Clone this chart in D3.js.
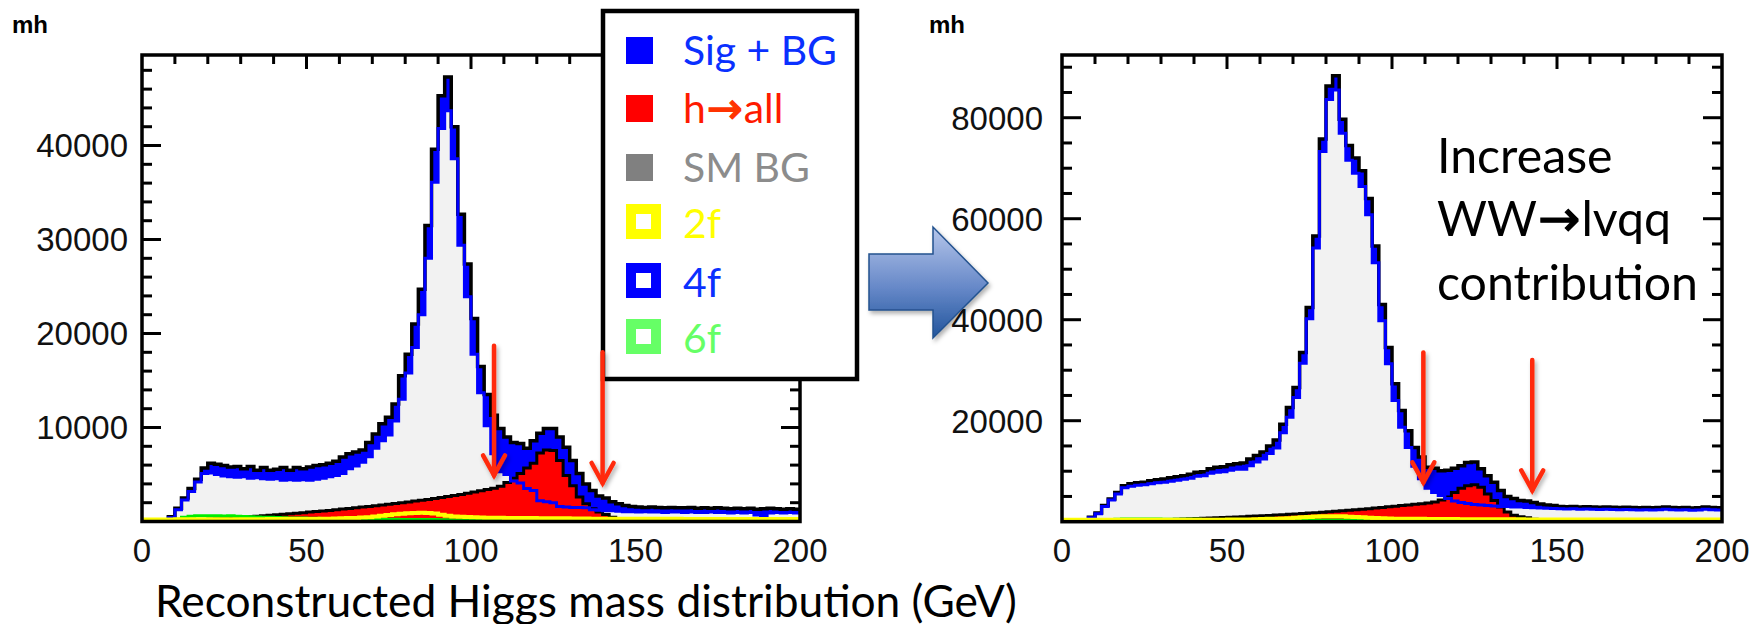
<!DOCTYPE html>
<html>
<head>
<meta charset="utf-8">
<script src="https://cdn.jsdelivr.net/npm/d3@7"></script>
<style>
body { margin: 0; background: #fff; }
svg { display: block; }
</style>
</head>
<body>
<script>
const width = 1763
const height = 624

// 2 GeV bins from 0 to 200
const binEdges = d3.range(0, 201, 2)

// ---- left panel (nominal) ----
const leftTotal = [0,0,0,0,500,1400,2500,3500,4500,5700,
  6200,6100,5950,5800,5850,5600,5850,5450,5750,5450,
  5550,5750,5450,5750,5600,5800,5950,6050,6200,6400,
  6850,7200,7400,7600,8400,9300,10400,11100,12500,15500,
  17800,21000,24700,31500,39600,45300,47300,42000,32700,27400,
  21600,16500,13500,11300,9900,9000,8400,8300,7800,8600,
  9400,9900,9900,9000,7900,6500,5100,4000,3300,2700,
  2500,2100,1900,1700,1600,1550,1500,1550,1500,1450,
  1500,1450,1450,1500,1400,1450,1400,1450,1400,1350,
  1400,1350,1400,1300,1350,1400,1350,1300,1350,1300]
const leftBg = [0,0,0,0,400,1250,2300,3200,4200,5100,
  5150,5000,4850,4750,4700,4750,4600,4650,4550,4500,
  4550,4400,4450,4400,4450,4400,4500,4600,4750,4900,
  5100,5600,5900,6300,6900,7800,8600,9200,10700,13000,
  15800,18500,22000,28000,36100,41800,43700,38600,29400,23900,
  17800,13700,10200,7200,5300,5000,4300,4100,3500,3300,
  2200,2100,2000,1600,1550,1500,1500,1450,1250,1200,
  1150,1150,1100,1050,1050,1000,1050,1000,1000,950,
  1000,1000,950,1000,950,950,1000,950,950,900,
  950,900,950,700,650,900,950,900,950,900]
const leftHiggs = [0,0,0,0,20,60,100,140,180,220,
  260,300,340,380,420,470,510,560,610,660,
  720,770,820,880,940,1000,1060,1120,1180,1250,
  1320,1390,1460,1530,1600,1680,1760,1840,1920,2000,
  2080,2170,2260,2350,2450,2550,2660,2770,2880,3000,
  3130,3260,3400,3550,3750,4150,4600,5100,5700,6200,
  7300,7600,7550,6500,4900,3800,2600,1900,1350,1000,
  750,450,150,0,0,0,0,0,0,0,
  0,0,0,0,0,0,0,0,0,0,
  0,0,0,0,0,0,0,0,0,0]
const left2f = [220,220,220,220,220,230,230,230,240,240,
  240,240,250,250,250,250,250,250,250,260,
  260,260,260,260,270,270,270,280,300,320,
  340,360,380,420,460,520,600,680,760,830,
  880,900,920,900,850,720,620,540,500,470,
  440,420,410,400,390,380,370,370,360,360,
  350,350,350,340,340,320,320,310,300,300,
  300,300,300,290,290,290,280,280,280,280,
  280,280,270,270,270,270,270,270,270,270,
  270,270,270,270,270,270,270,270,270,270]
const left6f = [0,0,0,0,0,250,450,550,600,620,
  600,620,580,600,560,520,500,480,460,450,
  420,400,380,380,360,350,340,330,320,300,
  300,290,280,270,260,250,240,230,230,220,
  220,210,210,200,200,190,180,170,160,150,
  140,140,130,130,130,120,120,120,120,110,
  110,110,110,100,100,100,100,100,100,100,
  100,100,100,90,90,90,90,90,90,90,
  90,90,90,90,90,80,80,80,80,80,
  80,80,80,80,80,80,80,80,80,80]

// ---- right panel (more WW -> lvqq) ----
const rightTotal = [0,0,0,0,900,1700,3200,4500,5800,7100,
  7500,7700,7800,8100,8300,8450,8700,8900,9100,9400,
  9800,9900,10500,10800,10900,11300,11500,11600,12400,13100,
  13800,15000,16200,19300,22600,26600,33500,42400,56600,75800,
  86300,88300,79700,74500,72000,69500,64000,54600,43000,34500,
  27300,22000,18000,14700,12800,10800,10600,10100,10200,10600,
  11100,11700,11800,10500,9100,7800,6200,5000,4600,4200,
  4100,3800,3500,3300,3200,3000,2950,3000,2900,2950,
  2900,2850,2900,2850,2800,2850,2800,2750,2800,2750,
  2800,2900,2800,2750,2800,2700,2750,2900,2800,2750]
const rightBg = [0,0,0,0,800,1550,3000,4300,5500,6700,
  7000,7200,7300,7500,7700,7800,8000,8200,8400,8600,
  9000,9100,9600,9800,9900,10200,10400,10400,11100,11800,
  12400,13500,14600,17600,20700,24600,31400,40200,54200,73300,
  83600,85500,76900,71600,69000,66400,60800,51300,39800,31300,
  24000,18700,14700,11000,8500,6600,5800,5200,4600,4100,
  3800,3600,3400,3300,3200,3100,3000,3000,2900,2900,
  2800,2750,2700,2650,2600,2550,2500,2550,2450,2500,
  2450,2400,2450,2400,2350,2400,2350,2300,2350,2300,
  2350,2450,2350,2300,2350,2250,2300,2450,2350,2300]
const rightHiggs = [0,0,0,0,0,60,100,130,160,200,
  230,260,300,340,380,420,460,500,540,580,
  630,680,730,780,830,880,940,1000,1060,1120,
  1180,1250,1320,1390,1460,1540,1620,1700,1780,1870,
  1960,2050,2150,2250,2350,2460,2570,2690,2810,2940,
  3070,3200,3330,3450,3550,3700,3900,4300,4900,5800,
  6600,7100,7300,6800,5500,4200,2900,1900,1300,1000,
  800,500,200,0,0,0,0,0,0,0,
  0,0,0,0,0,0,0,0,0,0,
  0,0,0,0,0,0,0,0,0,0]
const right2f = [400,400,400,400,400,400,400,400,400,400,
  400,400,400,400,400,400,400,400,400,400,
  400,400,410,410,410,420,420,430,450,480,
  520,560,600,650,700,780,860,940,1020,1060,
  1100,1100,1060,1000,950,870,780,720,670,620,
  600,590,580,570,560,550,540,530,520,520,
  510,510,500,500,500,500,490,490,480,480,
  460,460,460,450,450,450,440,440,440,440,
  430,430,430,430,430,420,420,420,420,420,
  420,420,420,420,420,420,420,420,420,420]
const right6f = [0,0,0,0,0,200,350,450,500,520,
  520,520,520,520,520,480,480,480,480,480,
  480,440,440,440,440,440,440,440,400,400,
  400,400,400,400,400,400,350,350,350,350,
  350,350,350,350,350,350,250,250,250,250,
  250,250,250,250,250,250,150,150,150,150,
  150,150,150,150,150,150,150,150,150,150,
  120,120,120,120,120,120,120,120,120,120,
  100,100,100,100,100,100,100,100,100,100,
  100,100,100,100,100,100,100,100,100,100]

// cut arrows: x position (GeV), arrow top and tip (entries)
const leftCuts = [{x: 107, top: 18700, tip: 4900}, {x: 140, top: 18000, tip: 4100}]
const rightCuts = [{x: 109.5, top: 33500, tip: 7800}, {x: 142.5, top: 32000, tip: 6200}]

// legend: [before arrow, after arrow] pieces so the arrow glyph can be styled
const legendLabels = [['Sig + BG'], ['h', 'all'], ['SM BG'], ['2f'], ['4f'], ['6f']]
const legendColors = ['#0000ff', '#ff0000', '#808080', '#ffff00', '#0000ff', '#66ff66']
const legendTextColors = ['#0a30ff', '#ff1a00', '#8c8c8c', '#ffff00', '#0a30ff', '#66ff66']
const legendHollow = [false, false, false, true, true, true]

const noteLines = [['Increase'], ['WW', 'lvqq'], ['contribution']]

const svg = d3.select('body').append('svg').attr('width', width).attr('height', height)
  .style('background', '#fff')

const defs = svg.append('defs')
const grad = defs.append('linearGradient').attr('id', 'bigArrow')
  .attr('x1', 0).attr('y1', 0).attr('x2', 0).attr('y2', 1)
grad.append('stop').attr('offset', 0).attr('stop-color', '#b6c6ea')
grad.append('stop').attr('offset', 0.55).attr('stop-color', '#6688c8')
grad.append('stop').attr('offset', 1).attr('stop-color', '#21559c')

const shadow = defs.append('filter').attr('id', 'shadow')
  .attr('x', -0.3).attr('y', -0.3).attr('width', 1.6).attr('height', 1.6)
shadow.append('feDropShadow').attr('dx', 2).attr('dy', 3)
  .attr('stdDeviation', 2).attr('flood-color', '#000').attr('flood-opacity', 0.3)

function fit(sel, w) {
  const fs = parseFloat(sel.attr('font-size'))
  const len = sel.node().getComputedTextLength()
  sel.attr('font-size', fs * w / len)
  return fs * w / len
}

// text with an optional arrow glyph between two pieces
function arrowText(sel, parts, arrowColor) {
  sel.append('tspan').text(parts[0])
  if (parts.length > 1) {
    sel.append('tspan').attr('font-family', 'DejaVu Sans, sans-serif')
      .attr('fill', arrowColor).attr('stroke', arrowColor).attr('stroke-width', 1.2)
      .attr('font-size', '1.05em').attr('dx', 1).text('\u2192')
    sel.append('tspan').attr('dx', 1).text(parts[1])
  }
  return sel
}

function drawPanel(cfg) {
  const x = d3.scaleLinear().domain([0, 200]).range([cfg.left, cfg.right])
  const y = d3.scaleLinear().domain([0, cfg.ymax]).range([cfg.bottom, cfg.top])
  const g = svg.append('g')

  const clipId = 'clip' + cfg.id
  defs.append('clipPath').attr('id', clipId).append('rect')
    .attr('x', cfg.left).attr('y', cfg.top)
    .attr('width', cfg.right - cfg.left).attr('height', cfg.bottom - cfg.top)

  // ticks (drawn under the histograms, ROOT style inward)
  const ticks = g.append('g').attr('stroke', '#000').attr('stroke-width', 3)
  const xt = d3.range(10, 200, 10)
  xt.forEach(v => {
    const len = v % 50 === 0 ? 14 : 9
    ticks.append('line').attr('x1', x(v)).attr('x2', x(v))
      .attr('y1', cfg.top).attr('y2', cfg.top + len)
    ticks.append('line').attr('x1', x(v)).attr('x2', x(v))
      .attr('y1', cfg.bottom).attr('y2', cfg.bottom - len)
  })
  const yt = d3.range(cfg.minor, cfg.ymax, cfg.minor)
  yt.forEach(v => {
    const len = v % cfg.major === 0 ? 19 : 10
    ticks.append('line').attr('x1', cfg.left).attr('x2', cfg.left + len)
      .attr('y1', y(v)).attr('y2', y(v))
    ticks.append('line').attr('x1', cfg.right).attr('x2', cfg.right - len)
      .attr('y1', y(v)).attr('y2', y(v))
  })

  const pts = vals => binEdges.map((e, i) => [e, vals[Math.min(i, vals.length - 1)]])
  const area = d3.area().curve(d3.curveStepAfter)
    .x(d => x(d[0])).y0(y(0)).y1(d => y(d[1]))
  const line = d3.line().curve(d3.curveStepAfter)
    .x(d => x(d[0])).y(d => y(d[1]))

  const h = g.append('g').attr('clip-path', `url(#${clipId})`)
  h.append('path').attr('d', area(pts(cfg.total))).attr('fill', '#0000ff')
  h.append('path').attr('d', area(pts(cfg.bg))).attr('fill', '#f2f2f2')
  h.append('path').attr('d', line(pts(cfg.total))).attr('fill', 'none')
    .attr('stroke', '#000').attr('stroke-width', 3.5)
  h.append('path').attr('d', area(pts(cfg.higgs))).attr('fill', '#ff0000')
  h.append('path').attr('d', line(pts(cfg.higgs))).attr('fill', 'none')
    .attr('stroke', '#000').attr('stroke-width', 3)
  h.append('path').attr('d', line(pts(cfg.bg))).attr('fill', 'none')
    .attr('stroke', '#0000ff').attr('stroke-width', 3)
  h.append('path').attr('d', line(pts(cfg.sixF))).attr('fill', 'none')
    .attr('stroke', '#00ee00').attr('stroke-width', 3)
  h.append('path').attr('d', line(pts(cfg.twoF))).attr('fill', 'none')
    .attr('stroke', '#ffff00').attr('stroke-width', 4)

  // frame
  g.append('rect').attr('x', cfg.left).attr('y', cfg.top)
    .attr('width', cfg.right - cfg.left).attr('height', cfg.bottom - cfg.top)
    .attr('fill', 'none').attr('stroke', '#000').attr('stroke-width', 3.5)

  // tick labels
  const lab = g.append('g').attr('font-family', 'Liberation Sans, Arial, sans-serif')
    .attr('font-size', 33).attr('fill', '#111')
  d3.range(0, 201, 50).forEach(v => {
    lab.append('text').attr('x', x(v)).attr('y', 562).attr('text-anchor', 'middle').text(v)
  })
  d3.range(cfg.major, cfg.ymax, cfg.major).forEach(v => {
    lab.append('text').attr('x', cfg.left - cfg.labelGap).attr('y', y(v)).attr('dy', '0.36em')
      .attr('text-anchor', 'end').text(v)
  })

  g.append('text').attr('x', cfg.mhX).attr('y', 33)
    .attr('font-family', 'Liberation Sans, Arial, sans-serif').attr('font-weight', 'bold')
    .attr('font-size', 24).text('mh')

  return {x, y}
}

function drawCuts(sc, cuts) {
  const a = svg.append('g').attr('stroke', '#ff2a0a').attr('stroke-width', 4.5)
    .attr('stroke-linecap', 'round').attr('fill', 'none').attr('filter', 'url(#shadow)')
  cuts.forEach(c => {
    const cx = sc.x(c.x), tip = sc.y(c.tip)
    a.append('line').attr('x1', cx).attr('x2', cx).attr('y1', sc.y(c.top)).attr('y2', tip)
    a.append('path').attr('d', `M${cx - 11},${tip - 20}L${cx},${tip}L${cx + 11},${tip - 20}`)
  })
}

const leftSc = drawPanel({
  id: 'L', left: 142, right: 800, top: 55, bottom: 521.5, ymax: 49630,
  minor: 2000, major: 10000, labelGap: 14, mhX: 12,
  total: leftTotal, bg: leftBg, higgs: leftHiggs, twoF: left2f, sixF: left6f
})
const rightSc = drawPanel({
  id: 'R', left: 1062, right: 1722, top: 55, bottom: 521.7, ymax: 92420,
  minor: 5000, major: 20000, labelGap: 19, mhX: 929,
  total: rightTotal, bg: rightBg, higgs: rightHiggs, twoF: right2f, sixF: right6f
})

// legend box
const leg = svg.append('g')
leg.append('rect').attr('x', 603).attr('y', 11).attr('width', 254).attr('height', 368)
  .attr('fill', '#fff').attr('stroke', '#000').attr('stroke-width', 4.5)
const rowY = [65, 123, 182, 238, 297, 353]
let legSize = 38
legendLabels.forEach((l, i) => {
  if (legendHollow[i]) {
    leg.append('rect').attr('x', 631).attr('y', rowY[i] - 29).attr('width', 25).attr('height', 25)
      .attr('fill', '#fff').attr('stroke', legendColors[i]).attr('stroke-width', 10)
  } else {
    leg.append('rect').attr('x', 626).attr('y', rowY[i] - 28).attr('width', 27).attr('height', 27)
      .attr('fill', legendColors[i])
  }
  const t = leg.append('text').attr('x', 683).attr('y', rowY[i])
    .attr('font-family', 'Lato, sans-serif').attr('font-size', legSize)
    .attr('fill', legendTextColors[i])
  arrowText(t, l, '#ff3300')
  if (i === 0) legSize = fit(t, 154)
})

// big arrow between panels
svg.append('path')
  .attr('d', 'M869,254H933V227L988,283L933,338V310H869Z')
  .attr('fill', 'url(#bigArrow)').attr('stroke', '#24528f').attr('stroke-width', 1.5)
  .attr('filter', 'url(#shadow)')

drawCuts(leftSc, leftCuts)
drawCuts(rightSc, rightCuts)

// note on the right panel
const noteY = [173, 236, 300]
const note = noteLines.map((l, i) => arrowText(svg.append('text').attr('x', 1437).attr('y', noteY[i])
  .attr('font-family', 'Lato, sans-serif').attr('font-size', 46).attr('fill', '#000'), l, '#000'))
const noteSize = fit(note[2], 261)
note.forEach(t => t.attr('font-size', noteSize))

// axis title
const title = svg.append('text').attr('x', 155).attr('y', 617)
  .attr('font-family', 'Lato, sans-serif').attr('font-size', 44).attr('fill', '#000')
  .text('Reconstructed Higgs mass distribution (GeV)')
fit(title, 862)
</script>
</body>
</html>
